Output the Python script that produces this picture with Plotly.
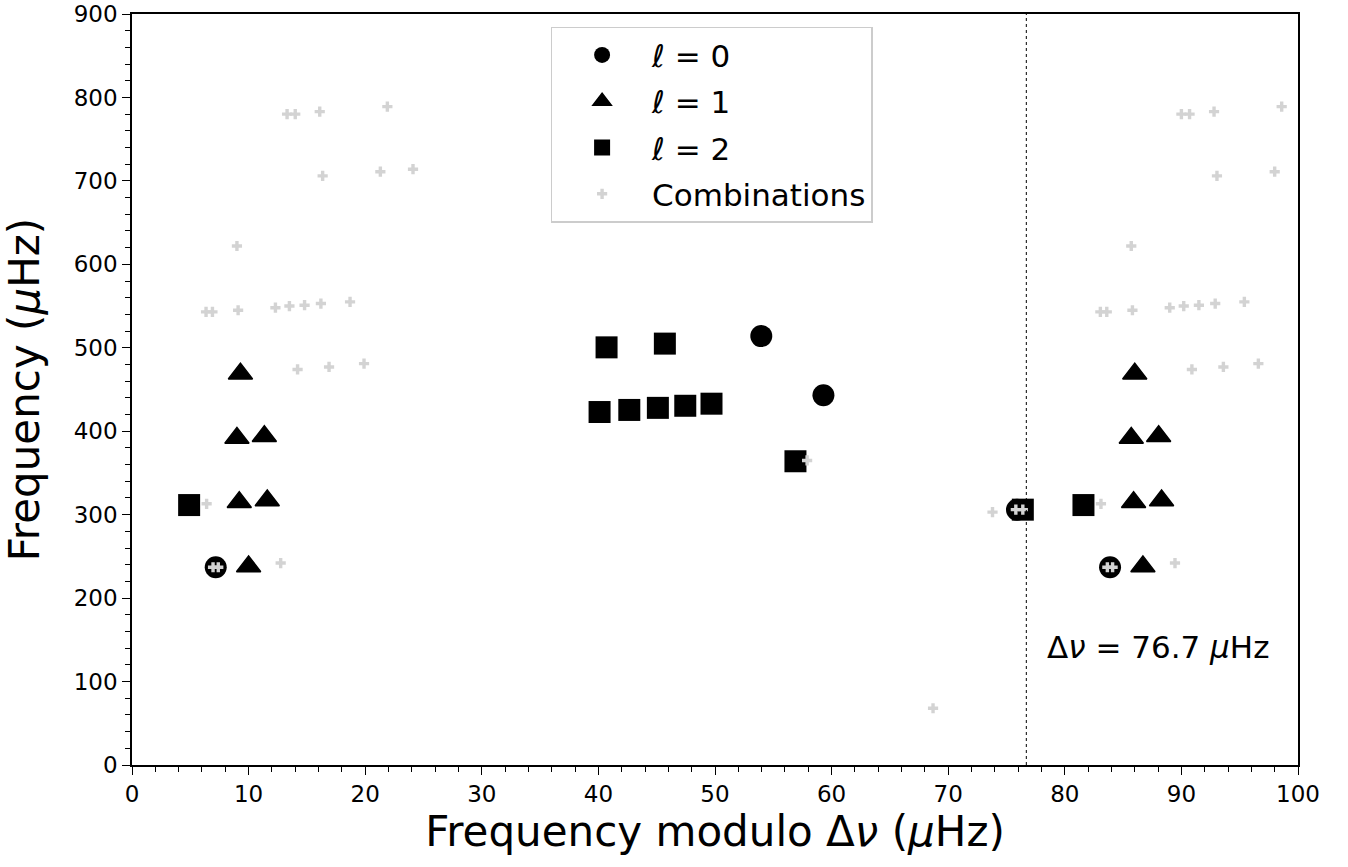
import plotly.graph_objects as go

DNU = 76.7  # large frequency separation (µHz)

# l = 0 modes: (frequency modulo Δν, frequency)
l0_x = [7.18, 53.97, 59.3, 75.9]
l0_y = [237, 514, 443, 306]

# l = 1 modes
l1_x = [9.3, 9.0, 11.35, 9.2, 11.6, 10.0]
l1_y = [469, 392, 394, 315, 317, 238]

# l = 2 modes
l2_x = [4.9, 40.7, 45.7, 40.1, 42.65, 45.1, 47.45, 49.7, 56.9, 76.4]
l2_y = [311.5, 500.5, 505, 423, 425.5, 428, 430.5, 433, 364, 306]

# combination frequencies
comb_x = [6.35, 6.9, 9.1, 12.3, 13.5, 14.8, 16.2, 18.7,
          9.0,
          13.3, 14.0, 16.1, 21.9,
          16.35, 21.3, 24.1,
          14.2, 16.9, 19.9,
          6.4, 12.75, 6.95, 7.4,
          57.9, 73.8, 75.8, 76.4, 68.7]
comb_y = [543, 543, 545, 548, 550, 551, 553, 555,
          622,
          780, 780, 783, 789,
          706, 711, 714,
          474, 477, 481,
          313, 242, 237, 237,
          365, 303, 306, 306, 68]

X_MAX = 100
Y_MAX = 900


def echelle(xs, ys):
    """Points plus their copies shifted by one Δν that still fall inside the axis."""
    ox, oy = list(xs), list(ys)
    for x, y in zip(xs, ys):
        if x + DNU <= X_MAX:
            ox.append(x + DNU)
            oy.append(y)
    return ox, oy


fig = go.Figure()

series = [
    ("<i>ℓ</i> = 0", l0_x, l0_y, "circle", 22, "black", 0),
    ("<i>ℓ</i> = 1", l1_x, l1_y, "triangle-up", 21, "black", 1.5),
    ("<i>ℓ</i> = 2", l2_x, l2_y, "square", 22, "black", 0),
    ("Combinations", comb_x, comb_y, "cross", 8.5, "#d3d3d3", 0),
]
for i, (name, xs, ys, sym, size, col, lw) in enumerate(series):
    ex, ey = echelle(xs, ys)
    fig.add_trace(go.Scatter(
        x=ex, y=ey, mode="markers", name=name, legendgroup=f"g{i}",
        marker=dict(symbol=sym, size=size, color=col, line=dict(width=lw, color=col)),
    ))

fig.add_shape(type="line", x0=DNU, x1=DNU, y0=0, y1=Y_MAX, xref="x", yref="y",
              line=dict(color="black", width=1, dash="dot"))

fig.add_annotation(x=78.3, y=142, xref="x", yref="y", xanchor="left", yanchor="middle",
                   text="Δ<i>ν</i> = 76.7 <i>μ</i>Hz", showarrow=False,
                   font=dict(size=31, color="black"))

axis_common = dict(
    showgrid=False, zeroline=False, showline=True, linecolor="black", linewidth=1.5,
    mirror=True, ticks="outside", ticklen=8, tickwidth=1.2, tickcolor="black",
    automargin=False, ticklabeloverflow="allow",
)

fig.update_xaxes(range=[0, X_MAX], tick0=0, dtick=10,
                 minor=dict(ticks="outside", ticklen=5, tickwidth=1, tickcolor="black", dtick=2),
                 tickfont=dict(size=23, color="black"),
                 title=dict(text="Frequency modulo Δ<i>ν</i> (<i>μ</i>Hz)",
                            font=dict(size=42, color="black"), standoff=10),
                 **axis_common)
fig.update_yaxes(range=[0, Y_MAX], tick0=0, dtick=100,
                 minor=dict(ticks="outside", ticklen=5, tickwidth=1, tickcolor="black", dtick=20),
                 tickfont=dict(size=23, color="black"),
                 title=dict(text="Frequency (<i>μ</i>Hz)",
                            font=dict(size=42, color="black"), standoff=22),
                 **axis_common)

fig.update_layout(
    width=1348, height=867,
    margin=dict(l=132, r=50, t=14, b=102),
    plot_bgcolor="white", paper_bgcolor="white",
    font=dict(family="DejaVu Sans", color="black"),
    legend=dict(x=0.359, y=0.983, xanchor="left", yanchor="top",
                bgcolor="white", bordercolor="#cccccc", borderwidth=1.5,
                font=dict(size=31), itemwidth=90, tracegroupgap=3),
    showlegend=True,
)

fig.write_html("out.html")
